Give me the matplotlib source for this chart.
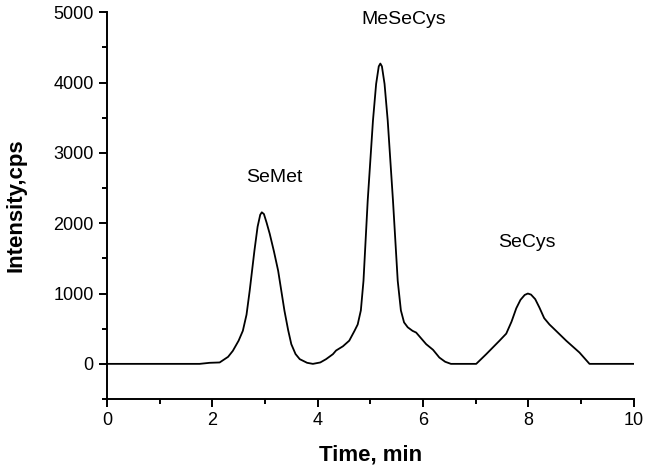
import matplotlib.pyplot as plt
from matplotlib.ticker import MultipleLocator

plt.rcParams['font.family'] = ['Liberation Sans', 'DejaVu Sans']

# chromatogram
time_min = [0.0, 1.76, 1.95, 2.14, 2.30, 2.39, 2.50, 2.58, 2.65, 2.71, 2.80,
            2.86, 2.91, 2.94, 2.98, 3.03, 3.09, 3.17, 3.25, 3.37, 3.44, 3.50,
            3.58, 3.66, 3.80, 3.91, 4.05, 4.16, 4.29, 4.35, 4.48, 4.60, 4.70,
            4.76, 4.82, 4.87, 4.95, 5.05, 5.11, 5.16, 5.19, 5.22, 5.27, 5.33,
            5.43, 5.52, 5.58, 5.64, 5.71, 5.80, 5.87, 6.06, 6.19, 6.31, 6.42,
            6.53, 7.01, 7.20, 7.45, 7.58, 7.68, 7.77, 7.85, 7.93, 7.99, 8.05,
            8.13, 8.21, 8.30, 8.40, 8.46, 8.72, 8.97, 9.16, 10.0]
intensity = [0, 0, 15, 20, 100, 185, 330, 470, 700, 1040, 1610,
             1950, 2120, 2155, 2130, 2010, 1850, 1600, 1325, 755, 480, 280,
             140, 67, 15, 0, 20, 67, 138, 190, 250, 330, 470,
             560, 760, 1180, 2320, 3460, 3980, 4230, 4270, 4230, 3980, 3460,
             2320, 1180, 760, 590, 520, 470, 445, 280, 200, 90, 30,
             0, 0, 138, 328, 430, 600, 790, 910, 980, 1000, 985,
             920, 800, 650, 560, 517, 328, 161, 0, 0]

peak_names = ['SeMet', 'MeSeCys', 'SeCys']
peak_label_x = [3.17, 5.63, 7.97]
peak_label_y = [2650, 4900, 1720]

fig = plt.figure(figsize=(6.48, 4.70), dpi=100)
ax = fig.add_axes([0.165, 0.151, 0.813, 0.823])

ax.plot(time_min, intensity, color='black', linewidth=1.3)

for name, px, py in zip(peak_names, peak_label_x, peak_label_y):
    ax.text(px, py, name, ha='center', va='center', fontsize=14)

ax.set_xlim(0, 10)
ax.set_ylim(-500, 5000)
ax.xaxis.set_major_locator(MultipleLocator(2))
ax.xaxis.set_minor_locator(MultipleLocator(1))
ax.yaxis.set_major_locator(MultipleLocator(1000))
ax.yaxis.set_minor_locator(MultipleLocator(500))

for side in ['top', 'right']:
    ax.spines[side].set_visible(False)
for side in ['left', 'bottom']:
    ax.spines[side].set_linewidth(1.4)

ax.tick_params(which='major', direction='out', length=6, width=1.4, labelsize=13)
ax.tick_params(which='minor', direction='out', length=3.5, width=1.4)

ax.set_xlabel('Time, min', fontsize=16, fontweight='bold', labelpad=11)
ax.set_ylabel('Intensity,cps', fontsize=16, fontweight='bold', labelpad=19)

fig.savefig('out.png', dpi=100)
